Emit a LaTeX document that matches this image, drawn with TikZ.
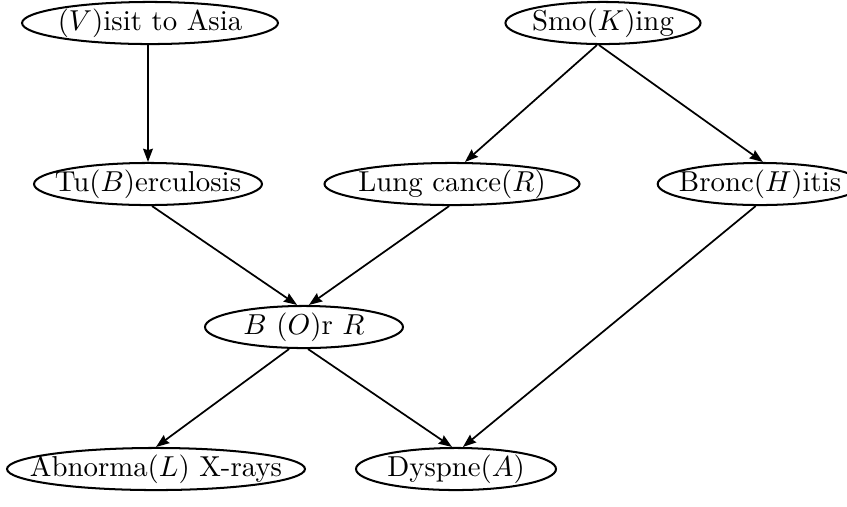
\documentclass[tikz,border=0pt]{standalone}
\usetikzlibrary{arrows.meta,shapes.geometric}
\begin{document}
\begin{tikzpicture}[x=0.347pt,y=-0.347pt,
  nd/.style={draw, ellipse, inner sep=0pt, line width=0.7pt, minimum height=14.6pt},
  ar/.style={line width=0.6pt, -{Stealth[length=4.6pt,width=3.4pt,inset=0.5pt]}}]
\useasboundingbox (0,0) rectangle (847,506);
\node[nd, minimum width=88.8pt] (V) at (150,23) {\makebox[0pt]{$(V)$isit to Asia}};
\node[nd, minimum width=67.7pt] (K) at (603,23) {\makebox[0pt]{Smo$(K)$ing}};
\node[nd, minimum width=79.1pt] (B) at (148,184) {\makebox[0pt]{Tu$(B)$erculosis}};
\node[nd, minimum width=88.5pt] (R) at (452,184) {\makebox[0pt]{Lung cance$(R)$}};
\node[nd, minimum width=71pt] (H) at (760,184) {\makebox[0pt]{Bronc$(H)$itis}};
\node[nd, minimum width=68.7pt] (O) at (304,327) {\makebox[0pt]{$B$ $(O)$r $R$}};
\node[nd, minimum width=103.4pt] (L) at (156,469) {\makebox[0pt]{Abnorma$(L)$ X-rays}};
\node[nd, minimum width=69.4pt] (A) at (456,469) {\makebox[0pt]{Dyspne$(A)$}};
\draw[ar] (B.north |- V.south) -- (B.north);
\draw[ar] ([xshift=-2.1pt]K.south) -- ([xshift=4.5pt]R.north);
\draw[ar] ([xshift=-1.4pt]K.south) -- ([xshift=1pt]H.north);
\draw[ar] ([xshift=1.4pt]B.south) -- ([xshift=-2.4pt]O.north);
\draw[ar] ([xshift=-1pt]R.south) -- ([xshift=1.7pt]O.north);
\draw[ar] ([xshift=-5.2pt]O.south) -- (L.north);
\draw[ar] ([xshift=1.4pt]O.south) -- ([xshift=-1.4pt]A.north);
\draw[ar] ([xshift=-1.5pt]H.south) -- ([xshift=2.4pt]A.north);
\end{tikzpicture}
\end{document}
